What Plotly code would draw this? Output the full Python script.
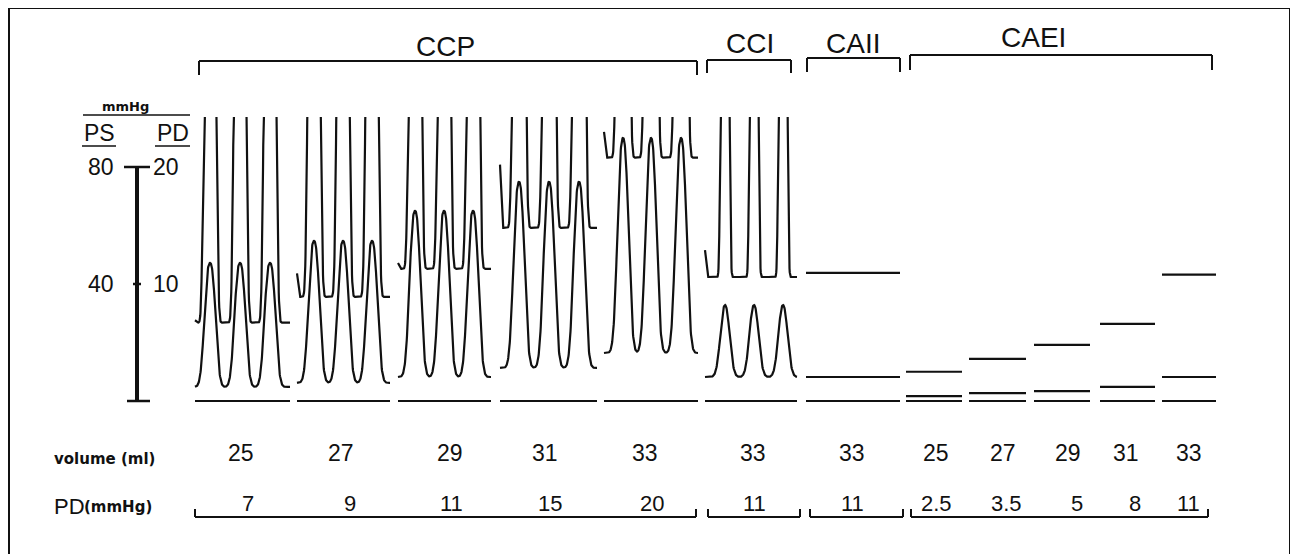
import numpy as np
import plotly.graph_objects as go

# the page body adds an 8px margin; the figure fills the rest of the 1298x554 window
OFF = 8
W, H = 1298 - OFF, 554 - OFF
FONT = "Liberation Sans, Arial, sans-serif"
FONT_SMALL = "DejaVu Sans, Verdana, sans-serif"
INK = "#111111"

# ---------------- data ----------------
groups = ["CCP", "CCI", "CAII", "CAEI"]
panel_group = ["CCP", "CCP", "CCP", "CCP", "CCP", "CCI", "CAII",
               "CAEI", "CAEI", "CAEI", "CAEI", "CAEI"]
volume_ml = ["25", "27", "29", "31", "33", "33", "33", "25", "27", "29", "31", "33"]
pd_labels = ["7", "9", "11", "15", "20", "11", "11", "2.5", "3.5", "5", "8", "11"]

# diastolic (PD, mmHg, right scale 0-20) trough / level of each recording
pd_level = [6.7, 8.9, 11.3, 14.8, 20.8, 10.6, 10.95, 2.5, 3.6, 4.8, 6.6, 10.8]
# value at which the PD trace enters each pulsatile panel (tail of previous beat)
pd_start = [6.9, 10.9, 11.8, 20.2, 23.0, 12.9]
# systolic (PS, mmHg, left scale 0-80) trough / level of each recording
ps_level = [4.8, 6.2, 8.2, 11.3, 16.4, 8.2, 8.2, 1.7, 2.7, 3.4, 4.8, 8.2]
# PS peak of pulsatile recordings (CCP x5, CCI)
ps_peak = [47.2, 54.7, 65.0, 74.9, 89.9, 32.8]
# beat timing (horizontal position of each beat, same units as x axis)
beats = [[210, 240, 270], [314, 343, 372], [415, 444, 473],
         [519, 549, 579], [623, 651, 681], [725, 754, 783]]

# ---------------- layout geometry (window pixels) ----------------
panel_x0 = [195, 297, 398, 500, 604, 705, 806, 906, 969, 1034, 1100, 1162]
panel_x1 = [290, 390, 491, 597, 698, 797, 900, 962, 1026, 1090, 1155, 1216]
vol_x = [241, 341, 450, 545, 645, 753, 852, 936, 1003, 1068, 1126, 1189]
pdl_x = [248, 350, 451, 550, 652, 754, 852, 936, 1006, 1077, 1135, 1188]
top_brackets = {"CCP": (199, 697, 61, 75), "CCI": (707, 791, 60, 73),
                "CAII": (807, 900, 58, 72), "CAEI": (910, 1212, 55, 70)}
title_pos = {"CCP": (445, 47), "CCI": (750, 43), "CAII": (853, 43), "CAEI": (1033, 37)}
bot_brackets = {"CCP": (195, 696), "CCI": (708, 800), "CAII": (810, 903), "CAEI": (911, 1208)}

PX_ZERO, PX_PER_MMHG, PX_CLIP = 401.0, 2.925, 117.0
ps_range = [(PX_ZERO - 554) / PX_PER_MMHG, (PX_ZERO - PX_CLIP) / PX_PER_MMHG]
pd_range = [v / 4 for v in ps_range]


def py(p):
    return 1 - (p - OFF) / H


dom_top = py(PX_CLIP)


def pulses(x, centers, w, p):
    s = np.zeros_like(x)
    for c in centers:
        s += np.exp(-np.abs((x - c) / w) ** p)
    return s


pd_x, pd_y, ps_x, ps_y, bl_x, bl_y = [], [], [], [], [], []
for i in range(len(panel_x0)):
    x0, x1 = panel_x0[i], panel_x1[i]
    bl_x += [x0, x1, None]
    bl_y += [0, 0, None]
    if i < len(beats):
        cci = panel_group[i] == "CCI"
        xs = np.arange(x0 + 2.5, x1 + 0.01, 0.25)
        wpd = 4.6 if cci else 6.8
        y = pd_level[i] + 40 * pulses(xs, beats[i], wpd, 4)
        pd_x += [x0] + list(xs) + [None]
        pd_y += [pd_start[i]] + list(y) + [None]
        xs2 = np.arange(x0, x1 + 0.01, 0.25)
        wps = 6.2 if cci else 7.0
        pps = 2.2 if cci else 2.5
        y2 = ps_level[i] + (ps_peak[i] - ps_level[i]) * pulses(xs2, beats[i], wps, pps)
        ps_x += list(xs2) + [None]
        ps_y += list(y2) + [None]
    else:
        pd_x += [x0, x1, None]
        pd_y += [pd_level[i], pd_level[i], None]
        ps_x += [x0, x1, None]
        ps_y += [ps_level[i], ps_level[i], None]

LW = 2.2
fig = go.Figure()
fig.add_trace(go.Scatter(x=bl_x, y=bl_y, mode="lines", line=dict(color=INK, width=LW),
                         hoverinfo="skip", showlegend=False))
fig.add_trace(go.Scatter(x=ps_x, y=ps_y, mode="lines", line=dict(color=INK, width=LW),
                         name="PS", showlegend=False))
fig.add_trace(go.Scatter(x=pd_x, y=pd_y, mode="lines", line=dict(color=INK, width=LW),
                         name="PD", yaxis="y2", showlegend=False))

shapes = []
ann = []


def line(x0, y0, x1, y1, w=2, yref="paper"):
    shapes.append(dict(type="line", xref="x", yref=yref, x0=x0, x1=x1, y0=y0, y1=y1,
                       line=dict(color=INK, width=w)))


def text(x, y, s, size, xanchor="center", yref="paper", family=FONT):
    ann.append(dict(x=x, y=y, xref="x", yref=yref, text=s, showarrow=False,
                    xanchor=xanchor, yanchor="middle",
                    font=dict(family=family, size=size, color=INK)))


# frame
line(9, py(8), 1290, py(8), 2)
line(9, py(8), 9, py(554), 2)
line(1290, py(8), 1290, py(554), 2)

# top group brackets and titles
for g in groups:
    a, b, yt, yb = top_brackets[g]
    line(a, py(yt), b, py(yt), 2)
    line(a, py(yt), a, py(yb), 2)
    line(b, py(yt), b, py(yb), 2)
    tx, ty = title_pos[g]
    text(tx, py(ty), g, 28)

# bottom brackets
for g in groups:
    a, b = bot_brackets[g]
    line(a, py(517), b, py(517), 2)
    line(a, py(517), a, py(509), 2)
    line(b, py(517), b, py(509), 2)

# pressure scale bar
line(137, 0, 137, 80, 4, yref="y")
line(124, 80, 150, 80, 2.5, yref="y")
line(133, 40, 141, 40, 2.5, yref="y")
line(127, 0, 150, 0, 2.5, yref="y")
text(116, 80, "80", 23, "right", yref="y")
text(116, 40, "40", 23, "right", yref="y")
text(151, 80, "20", 23, "left", yref="y")
text(151, 40, "10", 23, "left", yref="y")
text(125, py(106), "<b>mmHg</b>", 13, family=FONT_SMALL)
line(83, py(115), 190, py(115), 1.5)
text(99, py(133), "PS", 23)
text(173, py(133), "PD", 23)
line(82, py(146), 116, py(146), 1.5)
line(155, py(146), 190, py(146), 1.5)

# bottom rows
text(52, py(459), "<b>volume (ml)</b>", 15, "left", family=FONT_SMALL)
text(52, py(506), "PD", 22, "left")
text(82, py(507), "<b>(mmHg)</b>", 15, "left", family=FONT_SMALL)
for i in range(len(volume_ml)):
    text(vol_x[i], py(453), volume_ml[i], 23)
    text(pdl_x[i], py(503), pd_labels[i], 22)

fig.update_layout(
    width=W, height=H, margin=dict(l=0, r=0, t=0, b=0),
    paper_bgcolor="white", plot_bgcolor="white",
    shapes=shapes, annotations=ann,
    xaxis=dict(range=[OFF, 1298], domain=[0, 1], visible=False, fixedrange=True),
    yaxis=dict(range=ps_range, domain=[0, dom_top], visible=False, fixedrange=True),
    yaxis2=dict(range=pd_range, overlaying="y", visible=False, fixedrange=True),
)
fig.write_html("out.html")
